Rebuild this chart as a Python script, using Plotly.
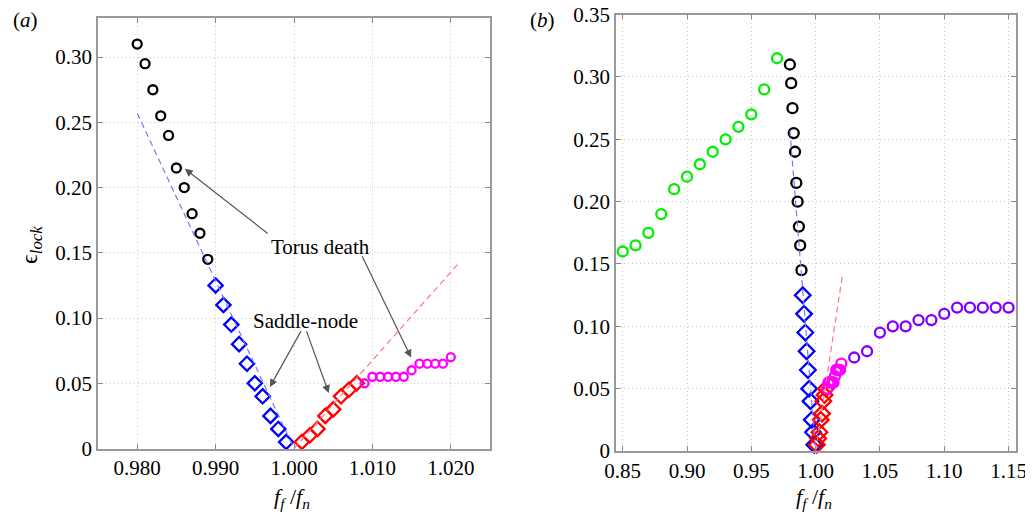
import plotly.graph_objects as go

# ---------------- data ----------------
# shared branch data (panel a and b)
black_x = [0.980, 0.981, 0.982, 0.983, 0.984, 0.985, 0.986, 0.987, 0.988, 0.989]
black_y = [0.310, 0.295, 0.275, 0.255, 0.240, 0.215, 0.200, 0.180, 0.165, 0.145]

blue_x = [0.990, 0.991, 0.992, 0.993, 0.994, 0.995, 0.996, 0.997, 0.998, 0.999]
blue_y = [0.125, 0.110, 0.095, 0.080, 0.065, 0.050, 0.040, 0.025, 0.015, 0.005]

red_x = [1.001, 1.002, 1.003, 1.004, 1.005, 1.006, 1.007, 1.008]
red_y = [0.005, 0.010, 0.015, 0.025, 0.030, 0.040, 0.045, 0.050]

magenta_x = [1.009, 1.010, 1.011, 1.012, 1.013, 1.014, 1.015, 1.016, 1.017, 1.018, 1.019, 1.020]
magenta_y = [0.050, 0.055, 0.055, 0.055, 0.055, 0.055, 0.060, 0.065, 0.065, 0.065, 0.065, 0.070]

# panel b only
green_x = [0.85, 0.86, 0.87, 0.88, 0.89, 0.90, 0.91, 0.92, 0.93, 0.94, 0.95, 0.96, 0.97]
green_y = [0.160, 0.165, 0.175, 0.190, 0.210, 0.220, 0.230, 0.240, 0.250, 0.260, 0.270, 0.290, 0.315]

purple_x = [1.03, 1.04, 1.05, 1.06, 1.07, 1.08, 1.09, 1.10, 1.11, 1.12, 1.13, 1.14, 1.15]
purple_y = [0.075, 0.080, 0.095, 0.100, 0.100, 0.105, 0.105, 0.110, 0.115, 0.115, 0.115, 0.115, 0.115]

# dashed analytic boundaries
blue_line_x = [0.980, 1.000]
blue_line_y = [0.257, 0.000]
red_line_x = [1.000, 1.021]
red_line_y = [0.000, 0.142]

# ticks
a_xticks = [0.980, 0.990, 1.000, 1.010, 1.020]
a_xlabels = ["0.980", "0.990", "1.000", "1.010", "1.020"]
a_yticks = [0, 0.05, 0.10, 0.15, 0.20, 0.25, 0.30]
a_ylabels = ["0", "0.05", "0.10", "0.15", "0.20", "0.25", "0.30"]
b_xticks = [0.85, 0.90, 0.95, 1.00, 1.05, 1.10, 1.15]
b_xlabels = ["0.85", "0.90", "0.95", "1.00", "1.05", "1.10", "1.15"]
b_yticks = [0, 0.05, 0.10, 0.15, 0.20, 0.25, 0.30, 0.35]
b_ylabels = ["0", "0.05", "0.10", "0.15", "0.20", "0.25", "0.30", "0.35"]

# ---------------- figure ----------------
FONT = "Liberation Serif"
fig = go.Figure()

def add_markers(x, y, color, symbol, size, xa, ya):
    fig.add_trace(go.Scatter(
        x=x, y=y, mode="markers", xaxis=xa, yaxis=ya, showlegend=False,
        cliponaxis=False,
        marker=dict(symbol=symbol, size=size, color=color,
                    line=dict(color=color, width=2.3))))

def add_line(x, y, color, xa, ya):
    fig.add_trace(go.Scatter(
        x=x, y=y, mode="lines", xaxis=xa, yaxis=ya, showlegend=False,
        line=dict(color=color, width=1.2, dash="6px,4px")))

# panel a
add_markers(black_x, black_y, "#000000", "circle-open", 9, "x", "y")
add_markers(blue_x, blue_y, "#0000ff", "diamond-open", 11, "x", "y")
add_markers(red_x, red_y, "#ff0000", "diamond-open", 11, "x", "y")
add_markers(magenta_x, magenta_y, "#ff00ff", "circle-open", 8, "x", "y")
add_line(blue_line_x, blue_line_y, "#7777ff", "x", "y")
add_line(red_line_x, red_line_y, "#ff7777", "x", "y")

# panel b
add_markers(green_x, green_y, "#00ee00", "circle-open", 10, "x2", "y2")
add_markers(purple_x, purple_y, "#8000ff", "circle-open", 10, "x2", "y2")
add_markers(black_x, black_y, "#000000", "circle-open", 10, "x2", "y2")
add_markers(blue_x, blue_y, "#0000ff", "diamond-open", 12, "x2", "y2")
add_markers(red_x, red_y, "#ff0000", "diamond-open", 12, "x2", "y2")
add_markers(magenta_x, magenta_y, "#ff00ff", "circle-open", 10, "x2", "y2")
add_line(blue_line_x, blue_line_y, "#7777ff", "x2", "y2")
add_line(red_line_x, red_line_y, "#ff7777", "x2", "y2")

# page body has an 8px margin, so figure pixel = reference pixel - 8
OFF = 8
W, H = 1033 - OFF, 519 - OFF

def dx(px):
    return (px - OFF) / W

def dy(py):
    return 1 - (py - OFF) / H

fig.update_layout(
    template="none",
    width=W, height=H, autosize=False, margin=dict(l=0, r=0, t=0, b=0, pad=0),
    paper_bgcolor="white", plot_bgcolor="white",
    font=dict(family=FONT, size=21, color="black"),
    xaxis=dict(domain=[dx(98), dx(490)], range=[0.975, 1.025], anchor="y",
               tickvals=a_xticks, ticktext=a_xlabels),
    yaxis=dict(domain=[dy(448.5), dy(18)], range=[0, 0.33], anchor="x",
               tickvals=a_yticks, ticktext=a_ylabels),
    xaxis2=dict(domain=[dx(616), dx(1016)], range=[0.8448, 1.1558], anchor="y2",
                tickvals=b_xticks, ticktext=b_xlabels),
    yaxis2=dict(domain=[dy(451), dy(14.5)], range=[0, 0.3501], anchor="x2",
                tickvals=b_yticks, ticktext=b_ylabels),
)
axis_style = dict(
    automargin=False, ticklabeloverflow="allow",
    showline=True, linecolor="#999999", linewidth=1.5, mirror="ticks",
    ticks="inside", ticklen=5, tickcolor="#888888", tickwidth=1,
    showgrid=True, gridcolor="#c8c8c8", griddash="1px,3px", gridwidth=1,
    zeroline=False, tickfont_family=FONT, tickfont_size=21, tickfont_color="black",
)
fig.update_xaxes(**axis_style)
fig.update_yaxes(**axis_style)

arrow_color = "#555555"
def arrow(tail, head, xr="x", yr="y"):
    fig.add_annotation(x=head[0], y=head[1], ax=tail[0], ay=tail[1],
                       xref=xr, yref=yr, axref=xr, ayref=yr, text="",
                       showarrow=True, arrowhead=2, arrowsize=1.3,
                       arrowwidth=1.2, arrowcolor=arrow_color, standoff=0)

# Torus death
fig.add_annotation(x=1.0034, y=0.1547, xref="x", yref="y", text="Torus death",
                   showarrow=False, font=dict(family=FONT, size=21, color="black"))
arrow((0.99684, 0.1639), (0.98608, 0.2144))
arrow((1.0086, 0.1485), (1.01494, 0.0697))
# Saddle-node
fig.add_annotation(x=1.0015, y=0.098, xref="x", yref="y", text="Saddle-node",
                   showarrow=False, font=dict(family=FONT, size=21, color="black"))
arrow((1.0010, 0.0911), (0.99692, 0.0472))
arrow((1.00152, 0.0911), (1.00443, 0.0426))

# panel labels and axis titles (reference pixel positions)
def paper_text(px, py, text, size=21, angle=0):
    fig.add_annotation(x=dx(px), y=dy(py), xref="paper", yref="paper",
                       text=text, showarrow=False, textangle=angle,
                       font=dict(family=FONT, size=size, color="black"),
                       xanchor="center", yanchor="middle")

paper_text(25, 20, "(<i>a</i>)")
paper_text(542, 20, "(<i>b</i>)")
xtitle = "<i>f</i><sub><i>f</i></sub> /<i>f</i><sub><i>n</i></sub>"
paper_text(292, 498, xtitle, size=22)
paper_text(814, 498, xtitle, size=22)
paper_text(31, 245, "ϵ<sub><i>lock</i></sub>", size=24, angle=-90)

fig.write_html("out.html")
